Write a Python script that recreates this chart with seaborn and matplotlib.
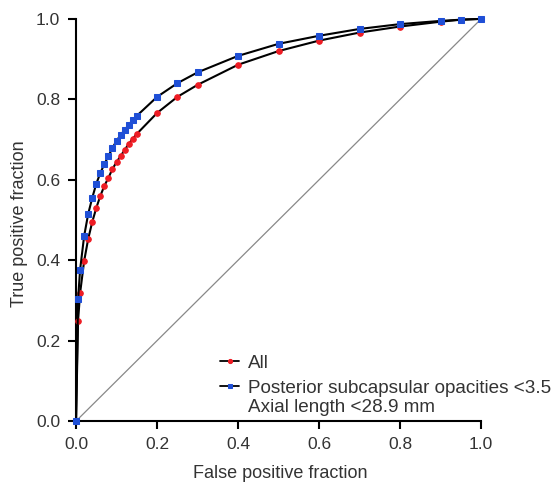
import matplotlib
matplotlib.use("Agg")
import matplotlib.pyplot as plt
import seaborn as sns
import pandas as pd

# ROC points
fpr = [0.0, 0.005, 0.01, 0.02, 0.03, 0.04, 0.05, 0.06, 0.07, 0.08, 0.09, 0.10,
       0.11, 0.12, 0.13, 0.14, 0.15, 0.2, 0.25, 0.3, 0.4, 0.5, 0.6, 0.7, 0.8,
       0.9, 0.95, 1.0]
tpr_all = [0.0, 0.249, 0.318, 0.398, 0.453, 0.495, 0.530, 0.560, 0.585, 0.605,
           0.627, 0.644, 0.659, 0.674, 0.689, 0.702, 0.714, 0.766, 0.806, 0.836,
           0.886, 0.920, 0.946, 0.966, 0.981, 0.993, 0.998, 1.0]
tpr_sub = [0.0, 0.303, 0.376, 0.460, 0.515, 0.555, 0.590, 0.617, 0.639, 0.659,
           0.679, 0.697, 0.711, 0.724, 0.736, 0.749, 0.759, 0.806, 0.840, 0.867,
           0.908, 0.938, 0.958, 0.975, 0.987, 0.995, 0.998, 1.0]
labels = ["All", "Posterior subcapsular opacities <3.5"]
label_extra = "Axial length <28.9 mm"

df = pd.DataFrame({"fpr": fpr, "all": tpr_all, "sub": tpr_sub})

sns.set_style("ticks")
plt.rcParams["font.family"] = ["Liberation Sans", "DejaVu Sans"]
txt_col = "#333333"

fig = plt.figure(figsize=(5.55, 4.84), dpi=100)
ax = fig.add_axes([0.137, 0.130, 0.730, 0.831])

# chance line
ax.plot([0, 1], [0, 1], color="#888888", lw=0.9, zorder=1)

sns.lineplot(data=df, x="fpr", y="all", ax=ax, color="black", lw=1.5,
             marker="o", markersize=4, markerfacecolor="#ee1c24",
             markeredgecolor="#ee1c24", label=labels[0], clip_on=False, zorder=3)
sns.lineplot(data=df, x="fpr", y="sub", ax=ax, color="black", lw=1.5,
             marker="s", markersize=4, markerfacecolor="#1f4fd6",
             markeredgecolor="#1f4fd6", label=labels[1], clip_on=False, zorder=4)

ax.set_xlim(0, 1)
ax.set_ylim(0, 1)
ticks = [0.0, 0.2, 0.4, 0.6, 0.8, 1.0]
ax.set_xticks(ticks)
ax.set_yticks(ticks)
ax.set_xticklabels([f"{t:.1f}" for t in ticks])
ax.set_yticklabels([f"{t:.1f}" for t in ticks])
ax.tick_params(direction="out", length=5.5, width=1.5, labelsize=12.5,
               color="black", labelcolor=txt_col, pad=6)
for s in ["left", "bottom"]:
    ax.spines[s].set_linewidth(1.5)
    ax.spines[s].set_color("black")
sns.despine(ax=ax)

ax.set_xlabel("False positive fraction", fontsize=13, color=txt_col)
ax.set_ylabel("True positive fraction", fontsize=13, color=txt_col)
ax.xaxis.set_label_coords(0.504, -0.108)
ax.yaxis.set_label_coords(-0.118, 0.49)

leg = ax.legend(loc="upper left", bbox_to_anchor=(0.356, 0.166), frameon=False,
                fontsize=13.6, handlelength=1.0, handletextpad=0.45,
                borderaxespad=0, borderpad=0, labelspacing=0.42)
for t in leg.get_texts():
    t.set_color(txt_col)
for h in leg.legend_handles:
    h.set_markersize(3)
    h.set_linewidth(1.3)

# second line of the blue label, aligned under its first line
fig.canvas.draw()
bb = leg.get_texts()[1].get_window_extent()
x0, y0 = fig.transFigure.inverted().transform((bb.x0, bb.y0))
fig.text(x0, y0 - 0.004, label_extra, fontsize=13.6, color=txt_col,
         ha="left", va="top")

fig.savefig("out.png", dpi=100)
